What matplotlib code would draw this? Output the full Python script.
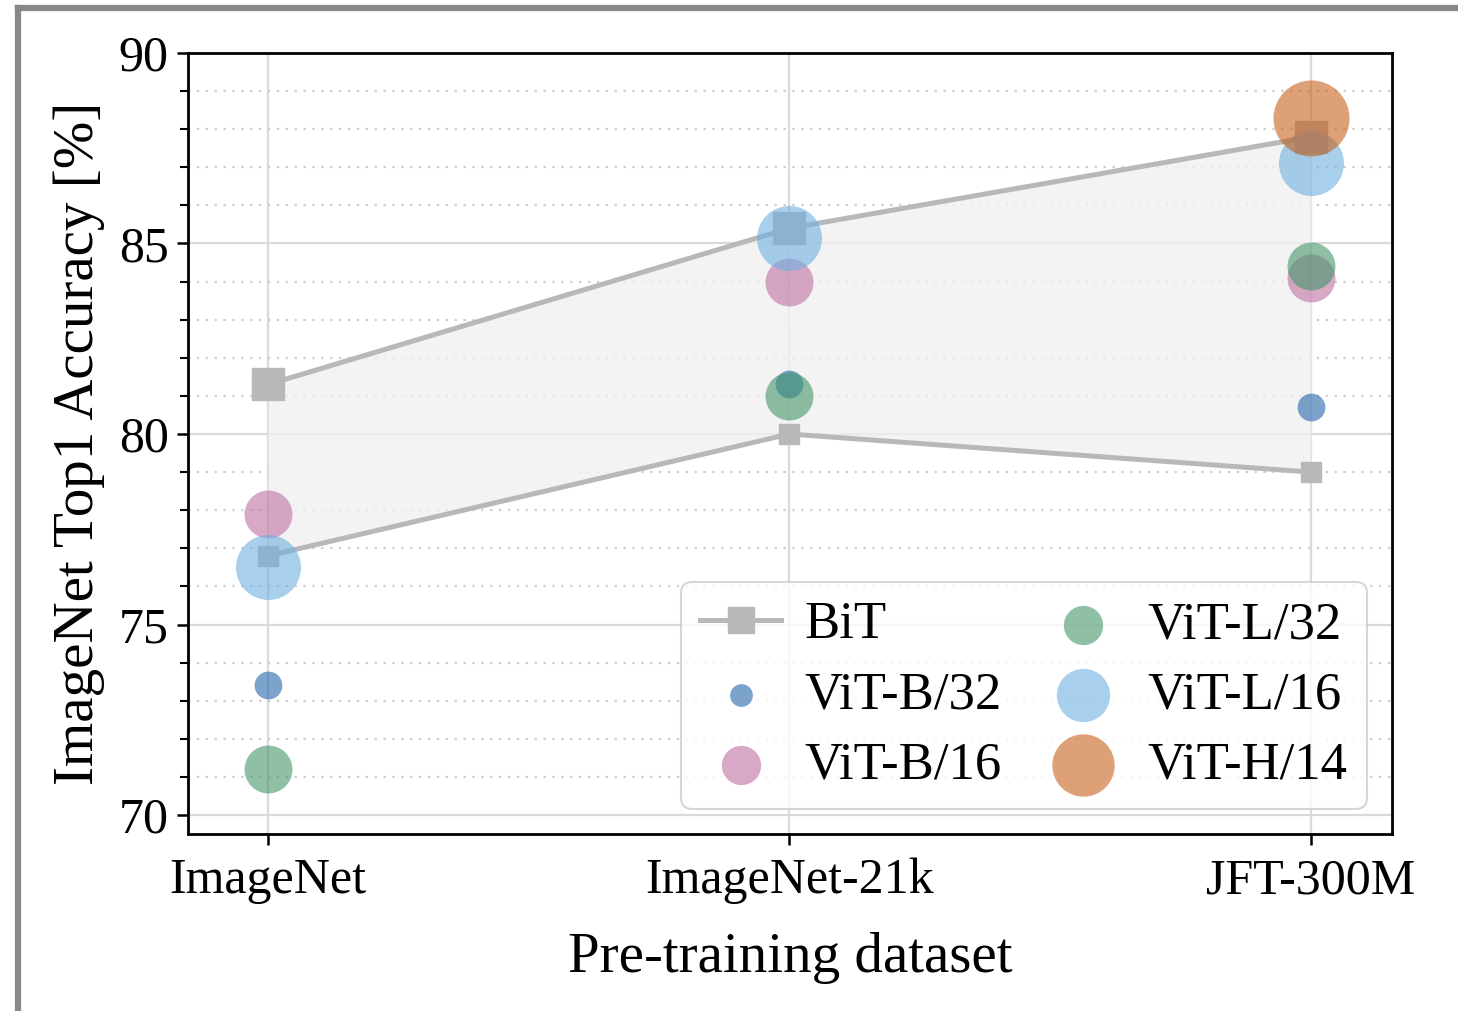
import numpy as np
import matplotlib.pyplot as plt
from matplotlib.lines import Line2D
from matplotlib.ticker import MultipleLocator

plt.rcParams['font.family'] = ['Liberation Serif', 'DejaVu Serif']
plt.rcParams['mathtext.fontset'] = 'stix'

datasets = ['ImageNet', 'ImageNet-21k', 'JFT-300M']

# BiT range (best / worst model per dataset)
bit_high = [81.3, 85.4, 87.8]
bit_low = [76.8, 80.0, 79.0]

models = ['ViT-B/32', 'ViT-B/16', 'ViT-L/32', 'ViT-L/16', 'ViT-H/14']
vit_acc = {
    'ViT-B/32': [73.4, 81.3, 80.7],
    'ViT-B/16': [77.9, 84.0, 84.1],
    'ViT-L/32': [71.2, 81.0, 84.4],
    'ViT-L/16': [76.5, 85.15, 87.1],
    'ViT-H/14': [None, None, 88.3],
}
colors = {
    'ViT-B/32': '#2366aa',
    'ViT-B/16': '#be71a3',
    'ViT-L/32': '#44966b',
    'ViT-L/16': '#6eb1e1',
    'ViT-H/14': '#c8611c',
}
sizes = {'ViT-B/32': 400, 'ViT-B/16': 1190, 'ViT-L/32': 1190,
         'ViT-L/16': 2190, 'ViT-H/14': 3000}

fig = plt.figure(figsize=(14.58, 10.11), dpi=100)
ax = fig.add_axes([0.129, 0.175, 0.8257, 0.7726])

x = np.arange(len(datasets))

ax.fill_between(x, bit_low, bit_high, color='#f0f0f0', alpha=0.8, zorder=1, lw=0)
ax.plot(x, bit_high, color='#b8b8b8', lw=3.6, marker='s', ms=23, zorder=2,
        label='BiT')
ax.plot(x, bit_low, color='#b8b8b8', lw=3.6, marker='s', ms=15, zorder=2)

for m in models:
    xs = [xi for xi, v in zip(x, vit_acc[m]) if v is not None]
    ys = [v for v in vit_acc[m] if v is not None]
    ax.scatter(xs, ys, s=sizes[m], color=colors[m], alpha=0.6, lw=0,
               zorder=3, label=m)

ax.set_xlim(-0.153, 2.155)
ax.set_ylim(69.5, 90)
ax.set_xticks(x)
ax.set_xticklabels(datasets)
ax.yaxis.set_major_locator(MultipleLocator(5))
ax.yaxis.set_minor_locator(MultipleLocator(1))

ax.grid(True, which='major', color='#dadada', lw=1.6, zorder=0)
ax.grid(True, which='minor', axis='y', color='#cccccc', lw=1.6,
        linestyle=(0, (1, 3)), zorder=0)
ax.set_axisbelow(True)

ax.tick_params(axis='both', which='major', labelsize=36, length=8, width=1.8,
               direction='out', pad=6)
ax.tick_params(axis='x', which='major', pad=9)
ax.tick_params(axis='y', which='minor', length=5.5, width=1.5)
for s in ax.spines.values():
    s.set_linewidth(2)

ax.set_xlabel('Pre-training dataset', fontsize=41, labelpad=20)
ax.set_ylabel('ImageNet Top1 Accuracy [%]', fontsize=41, labelpad=10)

handles, labels = ax.get_legend_handles_labels()
order = ['BiT', 'ViT-B/32', 'ViT-B/16', 'ViT-L/32', 'ViT-L/16', 'ViT-H/14']
hmap = dict(zip(labels, handles))
leg = ax.legend([hmap[k] for k in order], order, loc='lower right', ncol=2,
                fontsize=38, markerscale=0.82, handlelength=1.53,
                handletextpad=0.45, columnspacing=0.78, labelspacing=0.42,
                borderpad=0.36, borderaxespad=0.48,
                framealpha=0.8, edgecolor='#cccccc', fancybox=True)
leg.get_frame().set_linewidth(1.5)

# grey screenshot frame
fig.add_artist(Line2D([0.0125, 0.0125], [0.0, 0.992], color='#888888', lw=4.5,
                      transform=fig.transFigure, solid_capstyle='projecting'))
fig.add_artist(Line2D([0.0125, 1.0], [0.992, 0.992], color='#888888', lw=4.5,
                      transform=fig.transFigure, solid_capstyle='projecting'))

fig.savefig('out.png', dpi=100)
